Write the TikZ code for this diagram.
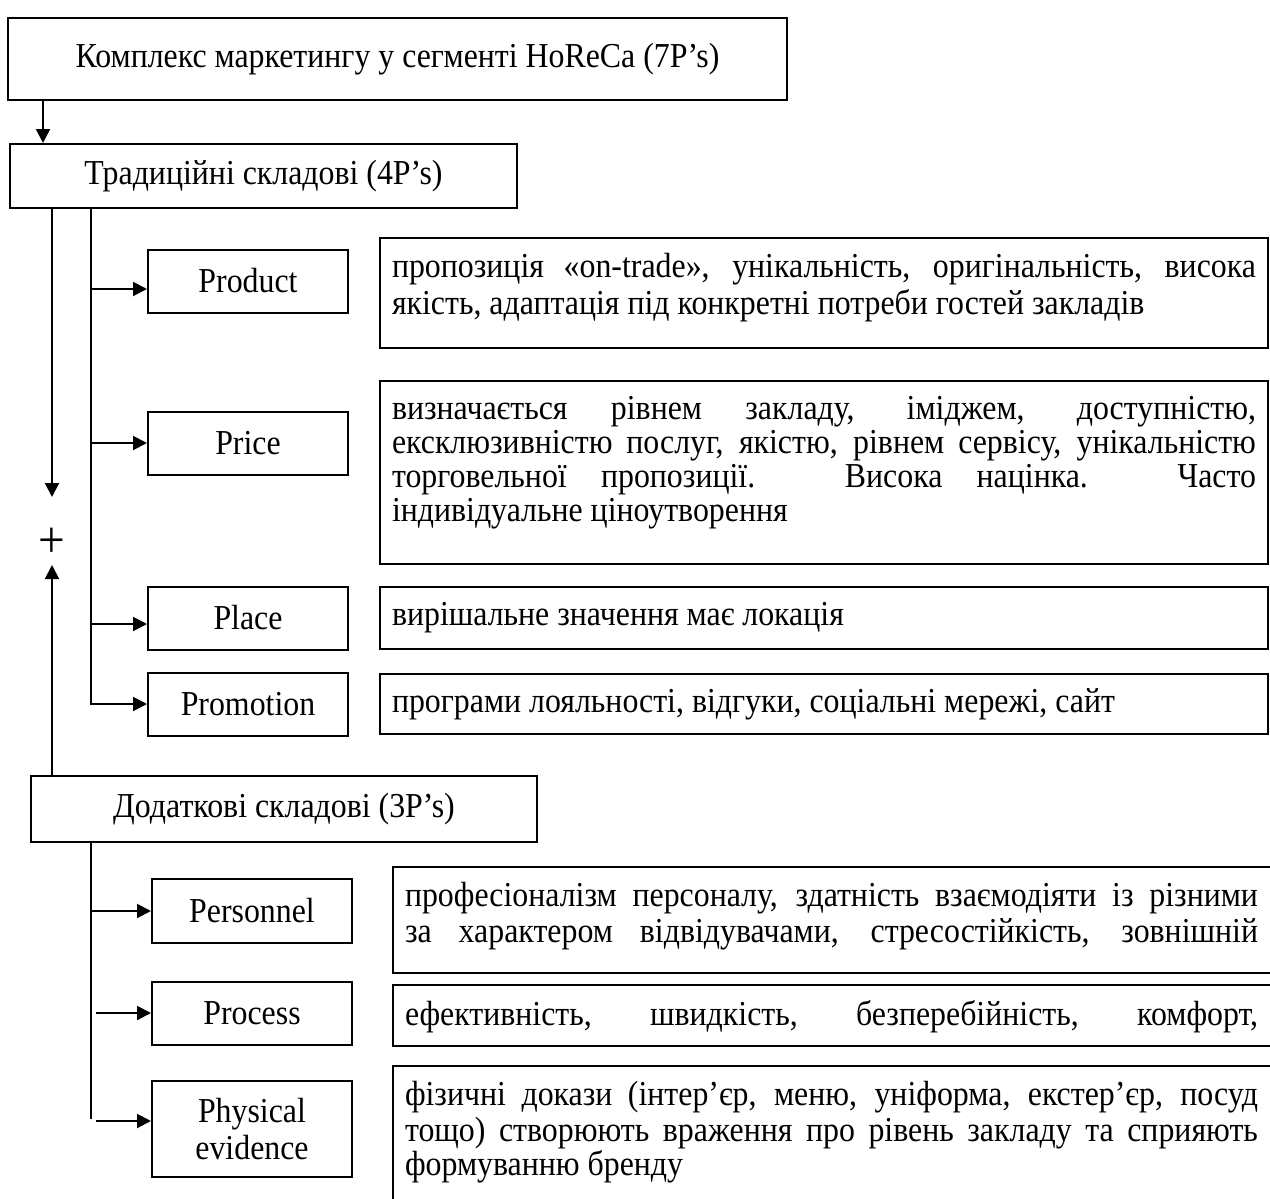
\documentclass[tikz,border=0pt]{standalone}
\usepackage{fontspec}
\setmainfont{Liberation Serif}[FakeStretch=0.91]
\usetikzlibrary{arrows.meta}
\tikzset{
  box/.style = {draw=black, line width=1pt, inner sep=0pt, font=\fontsize{17.5}{17}\selectfont},
  headbox/.style = {box, anchor=north west, align=center},
  pbox/.style = {box, align=center, minimum width=100pt, minimum height=31.5pt},
  descbox/.style = {box, anchor=north west, inner xsep=6pt, inner ysep=0pt},
  arr/.style = {line width=1pt, -{Triangle[length=7pt, width=7pt]}},
  bus/.style = {line width=1pt}
}
% text of a description box: [width]{height}{text}
\newcommand{\infotext}[3][432pt]{\parbox[c][#2][t]{#1}{\vspace*{7.5pt}\strut #3}}
\newcommand{\lowinfo}[2]{\infotext[426.5pt]{#1}{#2}\hspace*{5.5pt}}

\begin{document}
\begin{tikzpicture}[x=0.5pt, y=-0.5pt]
\useasboundingbox (0,0) rectangle (1270,1199);

% Head boxes
\node [headbox, minimum width=389.5pt, minimum height=41pt] (mix) at (7,17) {Комплекс маркетингу у сегменті HoReCa (7P’s)};
\node [headbox, minimum width=253.5pt, minimum height=32pt] (trad) at (9,143) {Традиційні складові (4P’s)};
\node [headbox, minimum width=253pt, minimum height=33pt] (extra) at (30,775) {Додаткові складові (3P’s)};

% Traditional components
\node [pbox] (product) at (248,281) {Product};
\node [pbox] (price) at (248,443) {Price};
\node [pbox] (place) at (248,618) {Place};
\node [pbox] (promotion) at (248,704) {Promotion};

\node [descbox] (productinfo) at (379,237) {\infotext{55pt}{пропозиція «on-trade», унікальність, оригінальність, висока\linebreak якість, адаптація під конкретні потреби гостей закладів}};
\node [descbox] (priceinfo) at (379,380) {\infotext{91.5pt}{визначається рівнем закладу, іміджем, доступністю,\linebreak ексклюзивністю послуг, якістю, рівнем сервісу, унікальністю\linebreak торговельної пропозиції. Висока націнка. Часто\linebreak індивідуальне ціноутворення}};
\node [descbox] (placeinfo) at (379,586) {\infotext{31pt}{вирішальне значення має локація}};
\node [descbox] (promotioninfo) at (379,673) {\infotext{30pt}{програми лояльності, відгуки, соціальні мережі, сайт}};

% Additional components
\node [pbox, minimum height=32pt] (personnel) at (252,911) {Personnel};
\node [pbox] (process) at (252,1013) {Process};
\node [pbox, minimum height=48pt] (physical) at (252,1129) {Physical\\[1.5pt]evidence};

\node [descbox] (personnelinfo) at (392,866) {\lowinfo{53pt}{\parfillskip=0pt професіоналізм персоналу, здатність взаємодіяти із різними\linebreak за характером відвідувачами, стресостійкість, зовнішній}};
\node [descbox] (processinfo) at (392,984) {\lowinfo{30.5pt}{\parfillskip=0pt ефективність, швидкість, безперебійність, комфорт,}};
\node [descbox] (physicalinfo) at (392,1065) {\lowinfo{72pt}{фізичні докази (інтер’єр, меню, уніформа, екстер’єр, посуд\linebreak тощо) створюють враження про рівень закладу та сприяють\linebreak формуванню бренду}};

% Arrows
\node [font=\fontsize{26}{26}\selectfont, inner sep=0pt] (plus) at (52,543) {+};
\draw [arr] ([xshift=18pt]mix.south west) -- ([xshift=17pt]trad.north west);
\draw [arr] (plus |- trad.south) -- ([yshift=23pt]plus.center);
\draw [arr] (plus |- extra.north) -- ([yshift=-11pt]plus.center);

\coordinate (bus1) at ([xshift=41pt]trad.south west);
\draw [arr] (bus1) |- (promotion.west);
\foreach \n/\dy in {product/-4pt, price/0pt, place/-3pt}
  \draw [arr] ([yshift=\dy]bus1 |- \n.west) -- ([yshift=\dy]\n.west);

\coordinate (bus2) at ([xshift=30.5pt]extra.south west);
\draw [bus] (bus2) -- ([yshift=5pt]bus2 |- physical.west);
\draw [arr] (bus2 |- personnel.west) -- (personnel.west);
\draw [arr] ([xshift=2.5pt]bus2 |- process.west) -- (process.west);
\draw [arr] ([xshift=2.5pt, yshift=4pt]bus2 |- physical.west) -- ([yshift=4pt]physical.west);

\end{tikzpicture}
\end{document}
